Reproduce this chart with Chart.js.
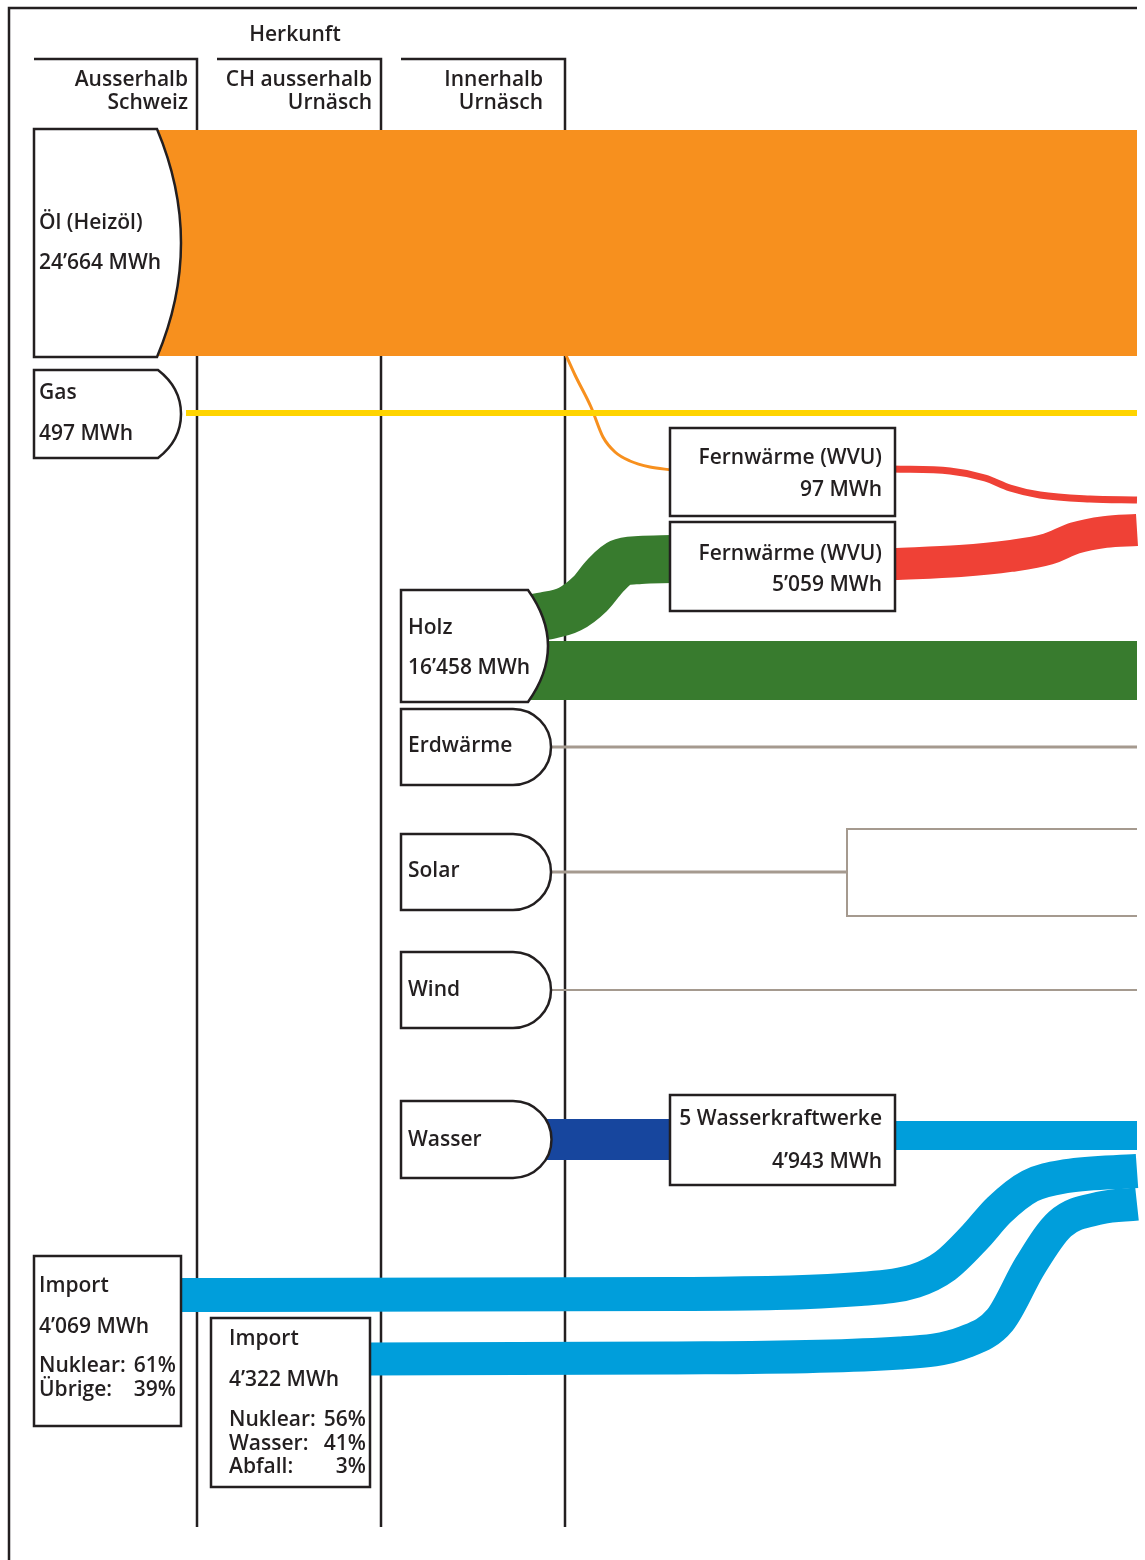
<!DOCTYPE html>
<html>
<head>
<meta charset="utf-8">
<script src="https://cdn.jsdelivr.net/npm/chart.js@4"></script>
<style>
  html, body { margin: 0; padding: 0; background: #fff; }
  #wrap { width: 1145px; height: 1560px; }
</style>
</head>
<body>
<div id="wrap"><canvas id="myChart" width="1145" height="1560"></canvas></div>
<script>
// --- values ---
const title = 'Herkunft';
const columnNames = [['Ausserhalb', 'Schweiz'], ['CH ausserhalb', 'Urnäsch'], ['Innerhalb', 'Urnäsch']];
const sourceNames = ['Öl (Heizöl)', 'Gas', 'Holz', 'Erdwärme', 'Solar', 'Wind', 'Wasser', 'Import', 'Import'];
const sourceMWh = [24664, 497, 16458, null, null, null, null, 4069, 4322];
const plantNames = ['Fernwärme (WVU)', 'Fernwärme (WVU)', '5 Wasserkraftwerke'];
const plantMWh = [97, 5059, 4943];
const importAbroadMix = ['Nuklear:', 'Übrige:'];
const importAbroadPct = [61, 39];
const importChMix = ['Nuklear:', 'Wasser:', 'Abfall:'];
const importChPct = [56, 41, 3];

// --- layout (chart units, y grows downward) ---
const INK = '#231f20';
const RIGHT = 1137;
const columns = [[34, 197], [217, 381], [401, 565]];
const nodeBoxes = [
  { x0: 34, x1: 157, y0: 129, y1: 357, shape: 'bulge', bx: 181, lines: [[39, 229], [39, 269]] },
  { x0: 34, x1: 158, y0: 370, y1: 458, shape: 'round', bx: 181, lines: [[39, 399], [39, 440]] },
  { x0: 401, x1: 528, y0: 590, y1: 702, shape: 'bulge', bx: 548, lines: [[408, 634], [408, 674]] },
  { x0: 401, x1: 513, y0: 709, y1: 785, shape: 'D', lines: [[408, 752]] },
  { x0: 401, x1: 513, y0: 834, y1: 910, shape: 'D', lines: [[408, 877]] },
  { x0: 401, x1: 513, y0: 952, y1: 1028, shape: 'D', lines: [[408, 996]] },
  { x0: 401, x1: 513, y0: 1101, y1: 1178, shape: 'D', lines: [[408, 1146]] },
  { x0: 34, x1: 181, y0: 1256, y1: 1426, shape: 'rect', lines: [[39, 1292], [39, 1333]], mix: [39, 176, 1372, 24] },
  { x0: 211, x1: 370, y0: 1318, y1: 1487, shape: 'rect', lines: [[229, 1345], [229, 1386]], mix: [229, 366, 1426, 23.5] }
];
const plantBoxes = [
  { x0: 670, x1: 895, y0: 428, y1: 516, tx: 882, ty: [464, 496] },
  { x0: 670, x1: 895, y0: 522, y1: 611, tx: 882, ty: [560, 591] },
  { x0: 670, x1: 895, y0: 1095, y1: 1185, tx: 882, ty: [1125, 1168] }
];
const flows = [
  { color: '#F7901E', w: 226, pts: [[150, 243], [RIGHT, 243]] },
  { color: '#FFD400', w: 6, pts: [[186, 413], [RIGHT, 413]] },
  { color: '#F7901E', w: 3, pts: [[565, 353], [575, 375], [591, 407], [603, 437], [615, 452], [630, 461], [650, 467], [672, 470]] },
  { color: '#EF4136', w: 7, pts: [[893, 469], [950, 471], [985, 478], [1010, 488], [1040, 495], [1090, 499], [RIGHT, 500]] },
  { color: '#EF4136', w: 32, pts: [[893, 564], [960, 561], [1010, 556], [1048, 549], [1075, 538], [1105, 532], [RIGHT, 530]] },
  { color: '#387B2E', w: 48, pts: [[515, 620], [545, 616], [570, 609], [590, 594], [605, 576], [620, 563], [640, 560], [672, 559]] },
  { color: '#387B2E', w: 59, pts: [[520, 670.5], [RIGHT, 670.5]] },
  { color: '#A59A8F', w: 3, pts: [[548, 747], [RIGHT, 747]] },
  { color: '#A59A8F', w: 3, pts: [[548, 872], [848, 872]] },
  { color: '#A59A8F', w: 2, pts: [[548, 990], [RIGHT, 990]] },
  { color: '#17469E', w: 41, pts: [[540, 1139.5], [672, 1139.5]] },
  { color: '#009EDB', w: 29, pts: [[893, 1135.5], [RIGHT, 1135.5]] },
  { color: '#009EDB', w: 34, pts: [[179, 1295], [670, 1294], [860, 1289], [915, 1281], [945, 1266], [975, 1237], [999, 1210], [1030, 1186], [1067, 1176], [RIGHT, 1171]] },
  { color: '#009EDB', w: 33, pts: [[369, 1359], [670, 1358], [900, 1353], [965, 1342], [1000, 1320], [1030, 1266], [1060, 1224], [1100, 1208], [RIGHT, 1204]] }
];
const solarFrame = [[RIGHT, 829], [847, 829], [847, 916], [RIGHT, 916]];

function fmt(v) {
  return String(v).replace(/\B(?=(\d{3})+(?!\d))/g, '\u2019') + ' MWh';
}

const FONT = '600 21px "Open Sans", sans-serif';

const framePlugin = {
  id: 'frame',
  beforeDatasetsDraw(chart) {
    const c = chart.ctx, sx = chart.scales.x, sy = chart.scales.y;
    const X = v => sx.getPixelForValue(v), Y = v => sy.getPixelForValue(v);
    c.save();
    c.strokeStyle = INK;
    c.lineWidth = 2.5;
    c.beginPath();
    c.moveTo(X(9), Y(1560));
    c.lineTo(X(9), Y(8));
    c.lineTo(X(RIGHT), Y(8));
    c.stroke();
    columns.forEach(([a, b]) => {
      c.beginPath();
      c.moveTo(X(a), Y(59));
      c.lineTo(X(b), Y(59));
      c.lineTo(X(b), Y(1527));
      c.stroke();
    });
    c.fillStyle = INK;
    c.font = FONT;
    c.textAlign = 'center';
    c.fillText(title, X(295), Y(41));
    c.textAlign = 'right';
    columnNames.forEach((nm, i) => {
      const r = columns[i][1] - (i === 2 ? 22 : 9);
      c.fillText(nm[0], X(r), Y(86));
      c.fillText(nm[1], X(r), Y(109));
    });
    c.restore();
  },
  afterDatasetsDraw(chart) {
    const c = chart.ctx, sx = chart.scales.x, sy = chart.scales.y;
    const X = v => sx.getPixelForValue(v), Y = v => sy.getPixelForValue(v);
    c.save();
    c.lineWidth = 2.5;
    c.strokeStyle = INK;
    c.lineJoin = 'miter';
    nodeBoxes.forEach((b, i) => {
      const ym = (b.y0 + b.y1) / 2;
      c.beginPath();
      c.moveTo(X(b.x0), Y(b.y0));
      if (b.shape === 'rect') {
        c.lineTo(X(b.x1), Y(b.y0));
        c.lineTo(X(b.x1), Y(b.y1));
      } else if (b.shape === 'bulge') {
        c.lineTo(X(b.x1), Y(b.y0));
        c.quadraticCurveTo(X(2 * b.bx - b.x1), Y(ym), X(b.x1), Y(b.y1));
      } else if (b.shape === 'round') {
        const h = b.y1 - b.y0;
        c.lineTo(X(b.x1), Y(b.y0));
        c.bezierCurveTo(X(b.x1 + 16), Y(b.y0 + h * 0.14), X(b.bx), Y(b.y0 + h * 0.3), X(b.bx), Y(ym));
        c.bezierCurveTo(X(b.bx), Y(b.y1 - h * 0.3), X(b.x1 + 16), Y(b.y1 - h * 0.14), X(b.x1), Y(b.y1));
      } else {
        const r = (b.y1 - b.y0) / 2;
        c.lineTo(X(b.x1), Y(b.y0));
        c.arc(X(b.x1), Y(ym), r, -Math.PI / 2, Math.PI / 2);
      }
      c.lineTo(X(b.x0), Y(b.y1));
      c.closePath();
      c.fillStyle = '#fff';
      c.fill();
      c.stroke();

      c.fillStyle = INK;
      c.font = FONT;
      c.textAlign = 'left';
      const [tx, ty] = b.lines[0];
      c.fillText(sourceNames[i], X(tx), Y(ty));
      if (b.lines[1] && sourceMWh[i] != null) {
        c.fillText(fmt(sourceMWh[i]), X(b.lines[1][0]), Y(b.lines[1][1]));
      }
      if (b.mix) {
        const [lx, rx, y0, dy] = b.mix;
        const labels = i === 7 ? importAbroadMix : importChMix;
        const pcts = i === 7 ? importAbroadPct : importChPct;
        labels.forEach((l, k) => {
          c.textAlign = 'left';
          c.fillText(l, X(lx), Y(y0 + k * dy));
          c.textAlign = 'right';
          c.fillText(pcts[k] + '%', X(rx), Y(y0 + k * dy));
        });
      }
    });

    plantBoxes.forEach((b, i) => {
      c.fillStyle = '#fff';
      c.fillRect(X(b.x0), Y(b.y0), X(b.x1) - X(b.x0), Y(b.y1) - Y(b.y0));
      c.strokeRect(X(b.x0), Y(b.y0), X(b.x1) - X(b.x0), Y(b.y1) - Y(b.y0));
      c.fillStyle = INK;
      c.font = FONT;
      c.textAlign = 'right';
      c.fillText(plantNames[i], X(b.tx), Y(b.ty[0]));
      c.fillText(fmt(plantMWh[i]), X(b.tx), Y(b.ty[1]));
    });
    c.restore();
  }
};

const datasets = flows.map(f => ({
  data: f.pts.map(([x, y]) => ({ x, y })),
  borderColor: f.color,
  borderWidth: f.w,
  borderCapStyle: 'butt',
  borderJoinStyle: 'round',
  pointRadius: 0,
  fill: false,
  cubicInterpolationMode: 'monotone'
}));
datasets.splice(9, 0, {
  data: solarFrame.map(([x, y]) => ({ x, y })),
  borderColor: '#A59A8F',
  borderWidth: 2,
  borderCapStyle: 'butt',
  borderJoinStyle: 'miter',
  pointRadius: 0,
  fill: false,
  tension: 0
});

const ctx = document.getElementById('myChart').getContext('2d');
new Chart(ctx, {
  type: 'line',
  data: { datasets },
  options: {
    responsive: false,
    animation: false,
    devicePixelRatio: 1,
    layout: { padding: 0 },
    events: [],
    plugins: { legend: { display: false }, tooltip: { enabled: false } },
    scales: {
      x: { type: 'linear', min: 0, max: 1145, display: false },
      y: { type: 'linear', min: 0, max: 1560, reverse: true, display: false }
    }
  },
  plugins: [framePlugin]
});
</script>
</body>
</html>
